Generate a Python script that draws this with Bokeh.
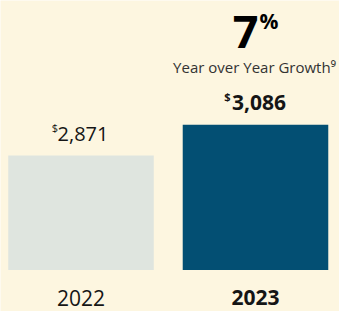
from bokeh.plotting import figure
from bokeh.models import Range1d, ColumnDataSource
from bokeh.core.properties import value
from bokeh.embed import file_html
from bokeh.resources import INLINE

years = ["2022", "2023"]
values = [2871, 3086]
value_labels = ["2,871", "3,086"]
growth_pct = "7"
growth_text = "Year over Year Growth\u2079"
bar_colors = ["#DFE5DF", "#034F73"]

BG = "#FDF6E0"
INK = "#151515"
FONT = "Open Sans"
BASE = 2070

xs = [0, 1]
p = figure(width=339, height=311, output_backend="svg", toolbar_location=None,
           x_range=Range1d(-0.4613, 1.4814), y_range=Range1d(1779, 3956),
           min_border=0, background_fill_color=BG, border_fill_color=BG,
           outline_line_color=None)
p.xaxis.visible = False
p.yaxis.visible = False
p.grid.visible = False

src = ColumnDataSource(dict(x=xs, top=values, color=bar_colors, year=years, lab=value_labels))
p.vbar(x="x", top="top", bottom=BASE, width=0.834, fill_color="color", line_color=None, source=src)

# value labels above bars
p.text(x=[xs[0]], y=[values[0]], text=[value_labels[0]], x_offset=2, y_offset=-22,
       text_align="center", text_baseline="alphabetic", text_font=value(FONT),
       text_font_size="20px", text_color=INK)
p.text(x=[xs[0]], y=[values[0]], text=["$"], x_offset=-23, y_offset=-28,
       text_align="right", text_baseline="alphabetic", text_font=value(FONT),
       text_font_size="11px", text_color=INK)

p.text(x=[xs[1]], y=[values[1]], text=[value_labels[1]], x_offset=3.5, y_offset=-22,
       text_align="center", text_baseline="alphabetic", text_font=value(FONT),
       text_font_size="21px", text_font_style="bold", text_color=INK)
p.text(x=[xs[1]], y=[values[1]], text=["$"], x_offset=-25, y_offset=-28,
       text_align="right", text_baseline="alphabetic", text_font=value(FONT),
       text_font_size="11px", text_font_style="bold", text_color=INK)

# growth annotation
p.text(x=[xs[1]], y=[values[1]], text=[growth_text], x_offset=-1, y_offset=-58,
       text_align="center", text_baseline="alphabetic", text_font=value(FONT),
       text_font_size="15px", text_color="#333333")
p.text(x=[xs[1]], y=[values[1]], text=[growth_pct], x_offset=3, y_offset=-93,
       text_align="right", text_baseline="alphabetic", text_font=value(FONT),
       text_font_size="45px", text_font_style="bold", text_color="#000000")
p.text(x=[xs[1]], y=[values[1]], text=["%"], x_offset=4, y_offset=-104,
       text_align="left", text_baseline="alphabetic", text_font=value(FONT),
       text_font_size="21px", text_font_style="bold", text_color="#000000")

# year labels below bars
p.text(x=[xs[0]], y=[BASE], text=[years[0]], y_offset=28,
       text_align="center", text_baseline="alphabetic", text_font=value(FONT),
       text_font_size="21px", text_color=INK)
p.text(x=[xs[1]], y=[BASE], text=[years[1]], y_offset=28,
       text_align="center", text_baseline="alphabetic", text_font=value(FONT),
       text_font_size="21px", text_font_style="bold", text_color=INK)

html = file_html(p, INLINE)
html = html.replace("<body>", '<body style="background:%s;margin:0">' % BG, 1)
open("out.html", "w").write(html)
